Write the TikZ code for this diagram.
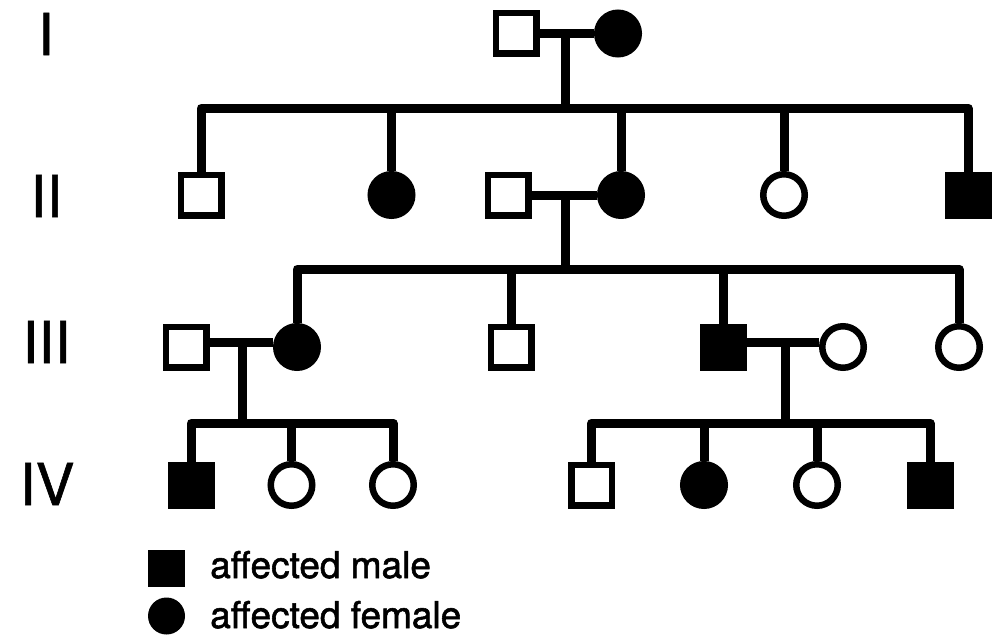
\documentclass[tikz,border=0pt]{standalone}
\usepackage{fontspec}
\setmainfont{TeX Gyre Heros}
\newfontfamily\genfont[FakeBold=1]{TeX Gyre Heros}
\newfontfamily\legfont[FakeBold=1.5]{TeX Gyre Heros}
\usetikzlibrary{calc}
\begin{document}
\begin{tikzpicture}[x=1pt,y=-1pt,
  male/.style={rectangle, draw=black, line width=6.5pt, minimum size=40.5pt, inner sep=0pt, fill=white},
  female/.style={circle, draw=black, line width=6.5pt, minimum size=41.5pt, inner sep=0pt, fill=white},
  aff/.style={fill=black},
  link/.style={line width=9pt, line join=round},
  gen/.style={inner sep=0pt, font=\genfont\fontsize{58}{60}\selectfont},
  legtxt/.style={inner sep=0pt, anchor=base west, font=\legfont\fontsize{37}{40}\selectfont}]
\useasboundingbox (0,0) rectangle (1000,634);

% generation labels
\node[gen] (gI) at (46,34) {I};
\node[gen] (gII) at (46.5,196) {II};
\node[gen] (gIII) at (46.5,342) {III};
\node[gen] (gIV) at (47,484) {IV};

% Generation I
\node[male] (I1) at (516,33.5) {};
\node[female,aff] (I2) at (618,33.5) {};

% Generation II
\node[male] (II1) at (201,195) {};
\node[female,aff] (II2) at (391.5,195) {};
\node[male] (II3) at (508,195) {};
\node[female,aff] (II4) at (621,195) {};
\node[female] (II5) at (784,195) {};
\node[male,aff] (II6) at (968,195) {};

% Generation III
\node[male] (III1) at (186,347) {};
\node[female,aff] (III2) at (297,347) {};
\node[male] (III3) at (511,347) {};
\node[male,aff] (III4) at (723.5,347) {};
\node[female] (III5) at (843,347) {};
\node[female] (III6) at (959,347) {};

% Generation IV
\node[male,aff] (IV1) at (191,485) {};
\node[female] (IV2) at (291.5,485) {};
\node[female] (IV3) at (393,485) {};
\node[male] (IV4) at (591.5,485) {};
\node[female,aff] (IV5) at (704,485) {};
\node[female] (IV6) at (817,485) {};
\node[male,aff] (IV7) at (930,485) {};

% couple I
\coordinate (u1) at (565,33.5);
\coordinate (s1) at (565,108);
\draw[link] (I1.east) -- (I2.west);
\draw[link] (u1) -- (s1);
\draw[link] (II1.north) |- (s1) -| (II6.north);
\foreach \c in {II2,II4,II5} \draw[link] (\c.north) -- (\c.north |- s1);

% couple II
\coordinate (u2) at (565,195);
\coordinate (s2) at (565,269);
\draw[link] (II3.east) -- (II4.west);
\draw[link] (u2) -- (s2);
\draw[link] (III2.north) |- (s2) -| (III6.north);
\foreach \c in {III3,III4} \draw[link] (\c.north) -- (\c.north |- s2);

% couple III left
\coordinate (u3) at (242,342);
\coordinate (s3) at (242,423);
\draw[link] (III1.east |- u3) -- (III2.west |- u3);
\draw[link] (u3) -- (s3);
\draw[link] (IV1.north) |- (s3) -| (IV3.north);
\draw[link] (IV2.north) -- (IV2.north |- s3);

% couple III right
\coordinate (u4) at (785,342);
\coordinate (s4) at (785,423);
\draw[link] (III4.east |- u4) -- (III5.west |- u4);
\draw[link] (u4) -- (s4);
\draw[link] (IV4.north) |- (s4) -| (IV7.north);
\foreach \c in {IV5,IV6} \draw[link] (\c.north) -- (\c.north |- s4);

% legend
\node[rectangle, fill=black, minimum size=37pt, inner sep=0pt] (Lm) at (166.5,568.5) {};
\node[circle, fill=black, minimum size=37pt, inner sep=0pt] (Lf) at (166.5,616) {};
\node[legtxt] (Lmt) at (210,578) {affected male};
\node[legtxt] (Lft) at (210,628) {affected female};
\end{tikzpicture}
\end{document}
